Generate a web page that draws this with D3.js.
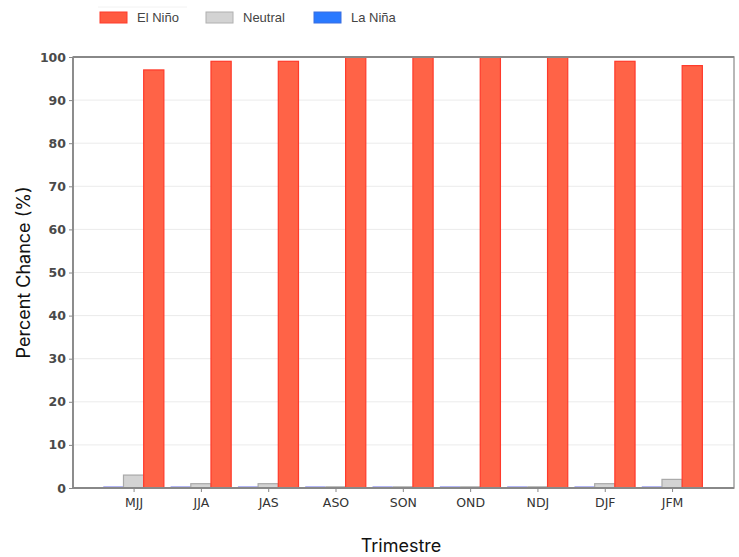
<!DOCTYPE html>
<html><head><meta charset="utf-8">
<script src="https://cdn.jsdelivr.net/npm/d3@7"></script>
<style>body{margin:0;background:#fff}svg{display:block}</style>
</head><body><div id="chart"></div>
<script>
const categories = ["MJJ","JJA","JAS","ASO","SON","OND","NDJ","DJF","JFM"];
const laNina = [0,0,0,0,0,0,0,0,0];
const neutral = [3,1,1,0,0,0,0,1,2];
const elNino = [97,99,99,100,100,100,100,99,98];
const yTicks = [0,10,20,30,40,50,60,70,80,90,100];
const seriesNames = ["El Niño","Neutral","La Niña"];

const W = 739, H = 557;
const m = {left:73, right:5, top:57, bottom:69};
const svg = d3.select("#chart").append("svg").attr("width",W).attr("height",H);

const x = d3.scaleLinear().domain([-0.9, 8.92]).range([m.left, W - m.right]);
const y = d3.scaleLinear().domain([0,100]).range([H - m.bottom, m.top]);
const bw = 0.3;

// gridlines
svg.append("g").selectAll("line").data(yTicks.slice(1,-1)).join("line")
  .attr("x1", m.left).attr("x2", W - m.right)
  .attr("y1", d=>y(d)).attr("y2", d=>y(d))
  .attr("stroke","#ebebeb").attr("stroke-width",1);

const series = [
  {name:"La Niña", vals:laNina, off:-bw, fill:"#2979ff", stroke:"#9a9cf0"},
  {name:"Neutral", vals:neutral, off:0, fill:"#d3d3d3", stroke:"#a9a9a9"},
  {name:"El Niño", vals:elNino, off:bw, fill:"#ff6347", stroke:"#ff3a2a"}
];
series.forEach(s=>{
  const g = svg.append("g");
  g.selectAll("rect").data(s.vals).join("rect")
    .attr("x",(d,i)=>x(i + s.off - bw/2))
    .attr("width", x(bw) - x(0))
    .attr("y", d=>y(d))
    .attr("height", d=>Math.max(0, y(0)-y(d)))
    .attr("fill", s.fill)
    .attr("stroke", s.stroke).attr("stroke-width",1.2);
  // edge line for bars at zero (visible as a thin baseline stroke)
  g.selectAll("line").data(s.vals.map((d,i)=>({d,i})).filter(o=>o.d===0)).join("line")
    .attr("x1",o=>x(o.i + s.off - bw/2)).attr("x2",o=>x(o.i + s.off + bw/2))
    .attr("y1",o=>y(o.d)-1).attr("y2",o=>y(o.d)-1)
    .attr("stroke", s.stroke).attr("stroke-width",1.5);
});

// frame
const frame = svg.append("g");
frame.append("rect").attr("x",m.left).attr("y",m.top)
  .attr("width",W-m.right-m.left).attr("height",H-m.bottom-m.top)
  .attr("fill","none").attr("stroke","#a0a0a0").attr("stroke-width",1.5);
frame.append("line").attr("x1",m.left).attr("x2",m.left).attr("y1",m.top).attr("y2",H-m.bottom)
  .attr("stroke","#888").attr("stroke-width",1.8);
frame.append("line").attr("x1",m.left).attr("x2",W-m.right).attr("y1",H-m.bottom).attr("y2",H-m.bottom)
  .attr("stroke","#888").attr("stroke-width",1.8);
frame.append("line").attr("x1",m.left).attr("x2",W-m.right).attr("y1",m.top).attr("y2",m.top)
  .attr("stroke","#888").attr("stroke-width",1.8);

// y axis
const yAxis = d3.axisLeft(y).tickValues(yTicks).tickSize(4).tickPadding(3);
const gy = svg.append("g").attr("transform",`translate(${m.left},0)`).call(yAxis);
gy.select(".domain").remove();
gy.selectAll(".tick line").attr("stroke","#888");
gy.selectAll("text").attr("font-family","DejaVu Sans").attr("font-size",12.5)
  .attr("font-weight","bold").attr("fill","#4a4a4a");

// x axis
const xAxis = d3.axisBottom(x).tickValues(d3.range(categories.length))
  .tickFormat(i=>categories[i]).tickSize(4).tickPadding(6);
const gx = svg.append("g").attr("transform",`translate(0,${H-m.bottom})`).call(xAxis);
gx.select(".domain").remove();
gx.selectAll(".tick line").attr("stroke","#888");
gx.selectAll("text").attr("font-family","DejaVu Sans").attr("font-size",12.5)
  .attr("fill","#333");

// axis titles
svg.append("text").attr("x",401).attr("y",552).attr("text-anchor","middle")
  .attr("font-family","Inter").attr("font-size",18).attr("fill","#111").text("Trimestre");
svg.append("text").attr("transform",`translate(30,${(m.top+H-m.bottom)/2}) rotate(-90)`)
  .attr("text-anchor","middle").attr("font-family","Inter").attr("font-size",18)
  .attr("fill","#111").text("Percent Chance (%)");

// legend
const legendItems = [
  {name:seriesNames[0], fill:"#ff5a40", stroke:"#ff3a2a", x:100},
  {name:seriesNames[1], fill:"#d3d3d3", stroke:"#b0b0b0", x:206},
  {name:seriesNames[2], fill:"#2979ff", stroke:"#3a6fe0", x:314}
];
svg.append("line").attr("x1",98).attr("x2",187).attr("y1",7).attr("y2",7)
  .attr("stroke","#f2f2f2").attr("stroke-width",1);
const lg = svg.append("g");
lg.selectAll("rect").data(legendItems).join("rect")
  .attr("x",d=>d.x).attr("y",12).attr("width",27).attr("height",11)
  .attr("fill",d=>d.fill).attr("stroke",d=>d.stroke).attr("stroke-width",1);
lg.selectAll("text").data(legendItems).join("text")
  .attr("x",d=>d.x+37).attr("y",22)
  .attr("font-family","Liberation Sans Narrow, Liberation Sans, sans-serif").attr("font-size",13)
  .attr("fill","#444").text(d=>d.name);
</script></body></html>
